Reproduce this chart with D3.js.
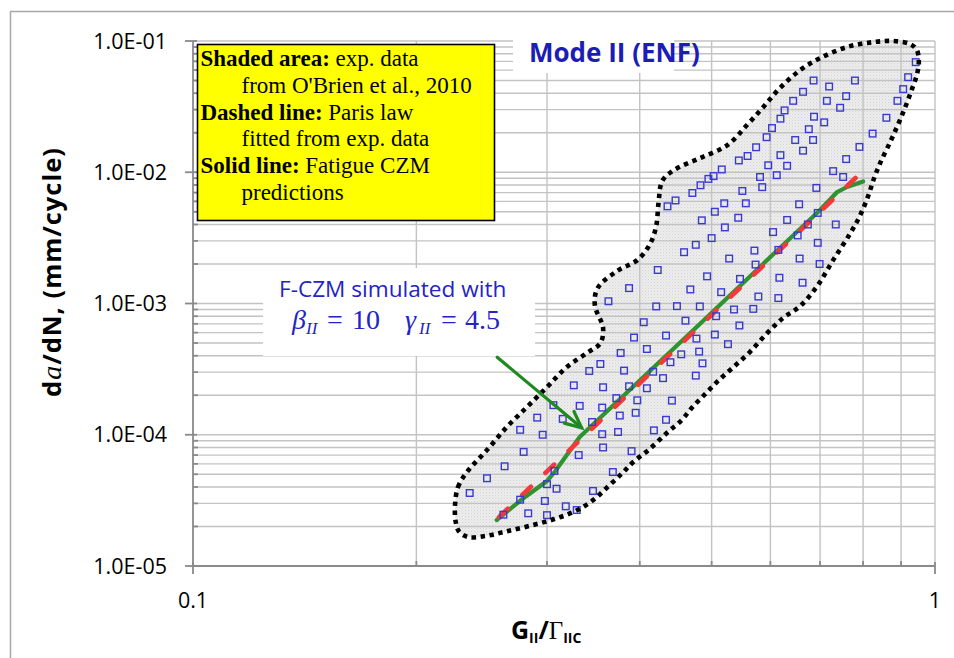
<!DOCTYPE html>
<html>
<head>
<meta charset="utf-8">
<script src="https://cdn.jsdelivr.net/npm/d3@7/dist/d3.min.js"></script>
<style>
  html, body { margin: 0; padding: 0; background: #fff; }
  svg { display: block; }
</style>
</head>
<body>
<svg id="chart" width="954" height="658"></svg>
<script>
// ---- Experimental scatter (O'Brien et al., 2010): G_II/Gamma_IIC vs da/dN ----
const expRatio = [
  0.942, 0.92, 0.906, 0.89, 0.86, 0.824, 0.791, 0.78, 0.759, 0.745,
  0.72, 0.715, 0.686, 0.664, 0.644, 0.627, 0.619, 0.603, 0.593, 0.574,
  0.559, 0.544, 0.516, 0.503, 0.495, 0.483, 0.471, 0.447, 0.436, 0.687,
  0.709, 0.676, 0.648, 0.685, 0.664, 0.619, 0.596, 0.632, 0.612, 0.581,
  0.585, 0.55, 0.52, 0.556, 0.505, 0.543, 0.485, 0.521, 0.50, 0.476,
  0.459, 0.423, 0.387, 0.363, 0.405, 0.421, 0.449, 0.461, 0.482, 0.468,
  0.493, 0.528, 0.515, 0.507, 0.546, 0.536, 0.545, 0.569, 0.578, 0.571,
  0.573, 0.605, 0.615, 0.617, 0.615, 0.632, 0.656, 0.653, 0.657, 0.663,
  0.674, 0.695, 0.695, 0.699, 0.692, 0.735, 0.729, 0.752, 0.759,
  0.393, 0.434, 0.477, 0.505, 0.526, 0.377, 0.409, 0.455, 0.481, 0.354,
  0.342, 0.381, 0.417, 0.44, 0.486, 0.43, 0.476, 0.326, 0.357, 0.387,
  0.409, 0.372, 0.397, 0.442, 0.306, 0.332, 0.356, 0.291, 0.315, 0.345,
  0.376, 0.395, 0.434, 0.276, 0.296, 0.356, 0.374, 0.418, 0.279, 0.331,
  0.357, 0.39, 0.263, 0.307, 0.368, 0.249, 0.236, 0.30, 0.309, 0.346,
  0.276, 0.298, 0.262, 0.283, 0.30, 0.318, 0.329
];
const expRate = [
  6.9e-2, 5.3e-2, 4.3e-2, 3.5e-2, 2.6e-2, 1.97e-2, 1.56e-2, 5.0e-2, 3.8e-2, 3.1e-2,
  4.5e-2, 3.5e-2, 5.0e-2, 4.1e-2, 3.5e-2, 2.96e-2, 2.56e-2, 2.17e-2, 1.85e-2, 1.55e-2,
  1.33e-2, 1.23e-2, 1.05e-2, 9.35e-3, 8.9e-3, 7.96e-3, 6.95e-3, 6.1e-3, 5.5e-3, 2.65e-2,
  2.4e-2, 2.13e-2, 1.76e-2, 1.76e-2, 1.46e-2, 1.35e-2, 1.13e-2, 1.12e-2, 9.5e-3, 9.2e-3,
  7.7e-3, 7.2e-3, 5.8e-3, 5.8e-3, 5.0e-3, 4.5e-3, 4.3e-3, 3.8e-3, 3.15e-3, 2.8e-3,
  2.46e-3, 1.8e-3, 1.31e-3, 1.04e-3, 7.2e-4, 9.5e-4, 9.55e-4, 7.4e-4, 9.5e-4, 1.28e-3,
  1.61e-3, 2.2e-3, 1.22e-3, 8.0e-4, 1.54e-3, 9.0e-4, 6.8e-4, 9.1e-4, 1.13e-3, 2.53e-3,
  1.98e-3, 3.5e-3, 2.56e-3, 1.57e-3, 1.1e-3, 4.33e-3, 5.7e-3, 3.3e-3, 2.2e-3, 1.44e-3,
  4.0e-3, 4.9e-3, 2.9e-3, 2.0e-3, 7.6e-3, 4.0e-3, 1.02e-2, 9.2e-3, 1.26e-2,
  5.5e-4, 5.7e-4, 5.4e-4, 5.8e-4, 4.9e-4, 4.2e-4, 4.5e-4, 4.1e-4, 4.3e-4, 3.46e-4,
  3.06e-4, 3.08e-4, 3.02e-4, 3.57e-4, 3.5e-4, 2.7e-4, 2.82e-4, 2.38e-4, 2.3e-4, 2.34e-4,
  2.26e-4, 1.9e-4, 1.83e-4, 1.82e-4, 1.68e-4, 1.66e-4, 1.61e-4, 1.35e-4, 1.32e-4, 1.25e-4,
  1.4e-4, 1.47e-4, 1.3e-4, 1.09e-4, 1.0e-4, 1.01e-4, 1.05e-4, 1.08e-4, 7.4e-5, 7.0e-5,
  8.0e-5, 7.5e-5, 5.75e-5, 5.3e-5, 5.2e-5, 4.66e-5, 3.6e-5, 4.2e-5, 3.88e-5, 3.73e-5,
  3.2e-5, 3.13e-5, 2.46e-5, 2.52e-5, 2.44e-5, 2.85e-5, 2.67e-5
];

// ---- Envelope of the experimental scatter (closed outline) ----
const envRatio = [
  0.2255, 0.2276, 0.234, 0.249, 0.265, 0.282, 0.300, 0.319, 0.3396, 0.354,
  0.357, 0.348, 0.351, 0.373, 0.397, 0.413, 0.421, 0.424, 0.429, 0.445,
  0.482, 0.525, 0.558, 0.587, 0.618, 0.658, 0.70, 0.761, 0.825, 0.878,
  0.925, 0.945, 0.951, 0.945, 0.93, 0.912, 0.891, 0.869, 0.846, 0.828,
  0.812, 0.792, 0.768, 0.729, 0.694, 0.658, 0.624, 0.594, 0.563, 0.535,
  0.51, 0.49, 0.47, 0.456, 0.435, 0.411, 0.392, 0.379, 0.362, 0.345,
  0.328, 0.307, 0.284, 0.263, 0.2475, 0.235, 0.2285, 0.226
];
const envRate = [
  2.91e-5, 4.0e-5, 5.2e-5, 7.65e-5, 1.15e-4, 1.63e-4, 2.31e-4, 3.28e-4, 4.2e-4, 5.0e-4,
  6.5e-4, 9.7e-4, 1.31e-3, 1.77e-3, 2.14e-3, 2.84e-3, 3.9e-3, 5.8e-3, 8.6e-3, 1.04e-2,
  1.28e-2, 1.61e-2, 2.29e-2, 3.14e-2, 4.38e-2, 6.0e-2, 7.4e-2, 9.0e-2, 9.8e-2, 1.0e-1,
  9.5e-2, 8.55e-2, 6.9e-2, 5.5e-2, 4.23e-2, 3.14e-2, 2.29e-2, 1.67e-2, 1.22e-2, 9.05e-3,
  6.5e-3, 4.65e-3, 3.39e-3, 2.14e-3, 1.36e-3, 9.55e-4, 7.75e-4, 5.95e-4, 4.27e-4, 3.28e-4,
  2.57e-4, 2.04e-4, 1.6e-4, 1.3e-4, 1.03e-4, 7.65e-5, 6.2e-5, 5.1e-5, 4.0e-5, 3.13e-5,
  2.63e-5, 2.28e-5, 2.02e-5, 1.82e-5, 1.69e-5, 1.66e-5, 1.82e-5, 2.16e-5
];

// ---- Paris law fitted from experimental data (dashed) ----
const parisRatio = [0.2585, 0.802];
const parisRate  = [2.36e-5, 1.04e-2];

// ---- Fatigue CZM predictions (solid) ----
const czmRatio = [0.2566, 0.2767, 0.300, 0.3075, 0.332, 0.482, 0.618, 0.700, 0.738, 0.761, 0.800];
const czmRate  = [2.24e-5, 3.18e-5, 4.44e-5, 5.25e-5, 9.6e-5, 6.98e-4, 2.65e-3, 5.16e-3, 7.07e-3, 7.72e-3, 8.50e-3];

// ---- Annotation arrow (start, tip) in data units ----
const arrowRatio = [0.257, 0.334];
const arrowRate  = [3.9e-4, 1.13e-4];

// ---- Axis ticks ----
const yMajorTicks = [1e-5, 1e-4, 1e-3, 1e-2, 1e-1];
const yTickLabels = ["1.0E-05", "1.0E-04", "1.0E-03", "1.0E-02", "1.0E-01"];
const xMajorTicks = [0.1, 1];
const xTickLabels = ["0.1", "1"];

const SANS = "'Open Sans', 'Noto Sans', sans-serif";
const SERIF = "'Liberation Serif', 'DejaVu Serif', serif";

const svg = d3.select("#chart");
const x = d3.scaleLog().domain([0.1, 1]).range([193, 935]);
const y = d3.scaleLog().domain([1e-5, 1e-1]).range([566, 41]);

// outer frame
svg.append("rect").attr("x", 10.5).attr("y", 11.5).attr("width", 980).attr("height", 700)
  .attr("fill", "#fff").attr("stroke", "#a6a6a6").attr("stroke-width", 1.5);

// stipple fill for the experimental band
const defs = svg.append("defs");
const pat = defs.append("pattern").attr("id", "stipple")
  .attr("width", 3).attr("height", 3).attr("patternUnits", "userSpaceOnUse");
pat.append("rect").attr("width", 3).attr("height", 3).attr("fill", "#ececec");
pat.append("rect").attr("width", 1).attr("height", 1).attr("fill", "#d5d5d5");
pat.append("rect").attr("x", 1.5).attr("y", 1.5).attr("width", 1).attr("height", 1).attr("fill", "#e0e0e0");

const envPts = envRatio.map((g, i) => [x(g), y(envRate[i])]);
const envLine = d3.line().curve(d3.curveCatmullRomClosed.alpha(0.5));

svg.append("path").attr("d", envLine(envPts)).attr("fill", "url(#stipple)");

// minor/major grid
const yGrid = [];
for (let e = -5; e <= -2; e++) for (let m = 1; m <= 9; m++) yGrid.push(m * Math.pow(10, e));
yGrid.push(1e-1);
const xGrid = [0.2, 0.3, 0.4, 0.5, 0.6, 0.7, 0.8, 0.9, 1.0];

const grid = svg.append("g").attr("stroke", "#c3c3c3").attr("stroke-width", 1.4);
grid.selectAll("line.h").data(yGrid.filter(v => v > 1e-5)).join("line")
  .attr("x1", x(0.1)).attr("x2", x(1)).attr("y1", d => y(d)).attr("y2", d => y(d));
grid.selectAll("line.v").data(xGrid).join("line")
  .attr("x1", d => x(d)).attr("x2", d => x(d)).attr("y1", y(1e-1)).attr("y2", y(1e-5));

// axes lines and ticks
const axisCol = "#8a8a8a";
const ax = svg.append("g").attr("stroke", axisCol).attr("stroke-width", 1.8);
ax.append("line").attr("x1", x(0.1)).attr("x2", x(0.1)).attr("y1", y(1e-1)).attr("y2", y(1e-5));
ax.append("line").attr("x1", x(0.1)).attr("x2", x(1)).attr("y1", y(1e-5)).attr("y2", y(1e-5));
ax.selectAll("line.ym").data(yMajorTicks).join("line")
  .attr("x1", x(0.1) - 8).attr("x2", x(0.1) + 4).attr("y1", d => y(d)).attr("y2", d => y(d));
ax.selectAll("line.yn").data(yGrid.filter(v => !yMajorTicks.includes(v))).join("line")
  .attr("x1", x(0.1)).attr("x2", x(0.1) + 5).attr("y1", d => y(d)).attr("y2", d => y(d));
ax.selectAll("line.xm").data(xMajorTicks).join("line")
  .attr("x1", d => x(d)).attr("x2", d => x(d)).attr("y1", y(1e-5) - 4).attr("y2", y(1e-5) + 8);
ax.selectAll("line.xn").data(xGrid.filter(v => v < 1)).join("line")
  .attr("x1", d => x(d)).attr("x2", d => x(d)).attr("y1", y(1e-5) - 5).attr("y2", y(1e-5));

// tick labels
svg.append("g").selectAll("text").data(yMajorTicks).join("text")
  .attr("x", 167).attr("y", d => y(d)).attr("dy", "0.35em")
  .attr("text-anchor", "end").attr("font-family", SANS).attr("font-size", 21.5).attr("fill", "#000")
  .text((d, i) => yTickLabels[i]);
svg.append("g").selectAll("text").data(xMajorTicks).join("text")
  .attr("x", d => x(d)).attr("y", 600).attr("dy", "0.35em")
  .attr("text-anchor", "middle").attr("font-family", SANS).attr("font-size", 21.5).attr("fill", "#000")
  .text((d, i) => xTickLabels[i]);

// Fatigue CZM prediction (solid green)
const line = d3.line().x(d => x(d[0])).y(d => y(d[1]));
svg.append("path").attr("d", line(czmRatio.map((g, i) => [g, czmRate[i]])))
  .attr("fill", "none").attr("stroke", "#2f9330").attr("stroke-width", 4.2)
  .attr("stroke-linejoin", "round").attr("stroke-linecap", "round");

// Paris law (dashed red)
svg.append("path").attr("d", line(parisRatio.map((g, i) => [g, parisRate[i]])))
  .attr("fill", "none").attr("stroke", "#f23a3a").attr("stroke-width", 4.6)
  .attr("stroke-dasharray", "12,20").attr("stroke-linecap", "round");

// experimental points (open squares)
const sq = 6.6;
svg.append("g").selectAll("rect").data(expRatio.map((g, i) => [g, expRate[i]])).join("rect")
  .attr("x", d => x(d[0]) - sq / 2).attr("y", d => y(d[1]) - sq / 2)
  .attr("width", sq).attr("height", sq)
  .attr("fill", "none").attr("stroke", "#3a3ad0").attr("stroke-width", 1.4);

// envelope outline (dotted)
svg.append("path").attr("d", envLine(envPts))
  .attr("fill", "none").attr("stroke", "#000").attr("stroke-width", 4.6)
  .attr("stroke-dasharray", "4.4,4.6");

// legend box
svg.append("rect").attr("x", 197.5).attr("y", 44.5).attr("width", 297).attr("height", 176)
  .attr("fill", "#ffff00").attr("stroke", "#000").attr("stroke-width", 1.6);
const legendLines = [
  { b: "Shaded area:", t: " exp. data", indent: false },
  { b: "", t: "from O'Brien et al., 2010", indent: true },
  { b: "Dashed line:", t: " Paris law", indent: false },
  { b: "", t: "fitted from exp. data", indent: true },
  { b: "Solid line:", t: " Fatigue CZM", indent: false },
  { b: "", t: "predictions", indent: true }
];
const lg = svg.append("g").attr("font-family", SERIF).attr("font-size", 23).attr("fill", "#000");
legendLines.forEach((l, i) => {
  const t = lg.append("text").attr("x", l.indent ? 241.5 : 200.5).attr("y", 66 + i * 26.8);
  if (l.b) t.append("tspan").attr("font-weight", "bold").text(l.b);
  t.append("tspan").text(l.t);
});

// title box
svg.append("rect").attr("x", 513).attr("y", 28).attr("width", 161).attr("height", 45).attr("fill", "#fff");
svg.append("text").attr("x", 529).attr("y", 62)
  .attr("font-family", SANS).attr("font-weight", "bold").attr("font-size", 26)
  .attr("fill", "#1c1cb6").text("Mode II (ENF)");

// annotation box
svg.append("rect").attr("x", 263).attr("y", 268).attr("width", 272).attr("height", 88).attr("fill", "#fff");
svg.append("text").attr("x", 279).attr("y", 297)
  .attr("font-family", SANS).attr("font-size", 22.6).attr("fill", "#2424c4")
  .text("F-CZM simulated with");
const mathCol = "#2424c4";
const mg = svg.append("g").attr("font-family", SERIF).attr("font-size", 28).attr("fill", mathCol);
function mathTerm(xs, sym, val) {
  mg.append("text").attr("x", xs[0]).attr("y", 329).attr("font-style", "italic").text(sym);
  mg.append("text").attr("x", xs[1]).attr("y", 334).attr("font-style", "italic").attr("font-size", 17).text("II");
  mg.append("text").attr("x", xs[2]).attr("y", 329).text("=");
  mg.append("text").attr("x", xs[3]).attr("y", 329).text(val);
}
mathTerm([292, 306, 327, 352], "\u03B2", "10");
mathTerm([405, 419, 441, 465], "\u03B3", "4.5");

// arrow
const ax0 = x(arrowRatio[0]), ay0 = y(arrowRate[0]);
const ax1 = x(arrowRatio[1]), ay1 = y(arrowRate[1]);
const ang = Math.atan2(ay1 - ay0, ax1 - ax0);
const headLen = 18, headAng = 25 * Math.PI / 180;
const ag = svg.append("g").attr("stroke", "#1f8a1f").attr("stroke-width", 3.2)
  .attr("fill", "none").attr("stroke-linecap", "round");
ag.append("line").attr("x1", ax0).attr("y1", ay0).attr("x2", ax1).attr("y2", ay1);
ag.append("polyline").attr("points", [
  [ax1 - headLen * Math.cos(ang - headAng), ay1 - headLen * Math.sin(ang - headAng)],
  [ax1, ay1],
  [ax1 - headLen * Math.cos(ang + headAng), ay1 - headLen * Math.sin(ang + headAng)]
].map(p => p.join(",")).join(" "));

// axis titles
const yt = svg.append("text").attr("transform", "translate(61,272) rotate(-90)")
  .attr("text-anchor", "middle").attr("font-family", SANS).attr("font-weight", "bold")
  .attr("font-size", 25.5).attr("letter-spacing", 1).attr("fill", "#000");
yt.append("tspan").text("d");
yt.append("tspan").attr("font-family", SERIF).attr("font-style", "italic").attr("font-weight", "normal").attr("font-size", 28).text("a");
yt.append("tspan").text("/dN, (mm/cycle)");

const xt = svg.append("text").attr("x", 511).attr("y", 639)
  .attr("font-family", SANS).attr("font-weight", "bold").attr("font-size", 25).attr("fill", "#000");
xt.append("tspan").text("G");
xt.append("tspan").attr("font-size", 14).attr("dy", 4).text("II");
xt.append("tspan").attr("dy", -4).text("/");
xt.append("tspan").attr("font-family", SERIF).attr("font-weight", "normal").text("\u0393");
xt.append("tspan").attr("font-size", 14).attr("dy", 4).text("IIC");
</script>
</body>
</html>
